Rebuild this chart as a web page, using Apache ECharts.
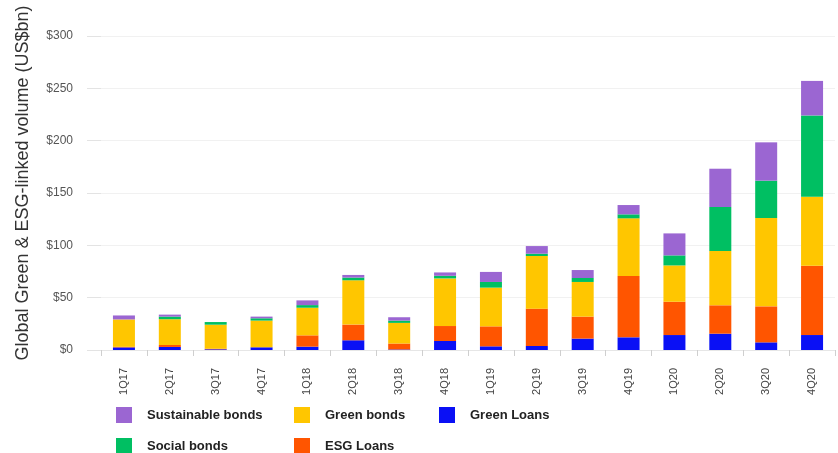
<!DOCTYPE html>
<html>
<head>
<meta charset="utf-8">
<script src="https://cdn.jsdelivr.net/npm/echarts@6/dist/echarts.min.js"></script>
<style>
  html, body { margin: 0; padding: 0; background: #fff; }
  #main { width: 838px; height: 453px; }
</style>
</head>
<body>
<div id="main"></div>
<script>
// quarters on the x axis
var categories = ['1Q17', '2Q17', '3Q17', '4Q17', '1Q18', '2Q18', '3Q18', '4Q18',
                  '1Q19', '2Q19', '3Q19', '4Q19', '1Q20', '2Q20', '3Q20', '4Q20'];

// volumes in US$bn, stacked bottom -> top
var greenLoans       = [2.5, 2.9, 0.7, 2.6, 3.2, 9.3, 0.5, 8.6, 3.5, 3.8, 10.9, 12.1, 14.3, 15.6, 7.3, 14.3];
var esgLoans         = [0.5, 1.9, 0.5, 0, 10.8, 15, 5.7, 14.3, 19.1, 35.7, 21, 58.6, 31.8, 27.1, 34.4, 66.2];
var greenBonds       = [26.2, 24.6, 23, 25.5, 26.4, 42.3, 19.7, 45.5, 37, 50.3, 33.1, 55.1, 34.7, 51.9, 84.4, 65.9];
var socialBonds      = [0, 2.5, 2.5, 2.2, 2.5, 2.6, 2.2, 2.5, 5.4, 2.2, 3.8, 3.8, 9.6, 42, 35.7, 77.7];
var sustainableBonds = [3.8, 1.9, 0, 1.6, 4.5, 2.5, 3.2, 3.2, 9.6, 7.3, 7.6, 8.9, 21, 36.6, 36.6, 33];

var yTicks = [0, 50, 100, 150, 200, 250, 300];

var myChart = echarts.init(document.getElementById('main'));

function bar(name, data, color) {
    return {
        name: name,
        type: 'bar',
        stack: 'total',
        barWidth: 22,
        data: data,
        itemStyle: { color: color }
    };
}

// one legend per item so the columns sit where they do in the picture
function legendItem(name, left, top) {
    return {
        data: [name],
        left: left,
        top: top,
        padding: 0,
        itemWidth: 16,
        itemHeight: 16,
        icon: 'rect',
        textStyle: {
            fontFamily: 'Liberation Sans, Arial, sans-serif',
            fontSize: 13,
            fontWeight: 'bold',
            color: '#222',
            padding: [0, 0, 0, 10]
        }
    };
}

var option = {
    animation: false,
    textStyle: { fontFamily: 'Liberation Sans, Arial, sans-serif' },
    grid: {
        left: 101,
        right: 3,
        top: 36,
        bottom: 103
    },
    legend: [
        legendItem('Sustainable bonds', 116, 407),
        legendItem('Green bonds', 294, 407),
        legendItem('Green Loans', 439, 407),
        legendItem('Social bonds', 116, 438),
        legendItem('ESG Loans', 294, 438)
    ],
    graphic: [{
        type: 'text',
        x: 23,
        y: 183,
        rotation: Math.PI / 2,
        style: {
            text: 'Global Green & ESG-linked volume (US$bn)',
            font: '18px "Liberation Sans", Arial, sans-serif',
            fill: '#333',
            align: 'center',
            verticalAlign: 'middle'
        }
    }],
    xAxis: {
        type: 'category',
        data: categories,
        axisLine: { show: true, lineStyle: { color: '#e6e6e6' } },
        axisTick: { show: true, length: 6, lineStyle: { color: '#cfcfcf' } },
        axisLabel: {
            rotate: 90,
            margin: 18,
            fontSize: 11,
            color: '#444'
        }
    },
    yAxis: {
        type: 'value',
        min: yTicks[0],
        max: yTicks[yTicks.length - 1],
        interval: 50,
        axisLine: { show: false },
        axisTick: { show: true, length: 14, lineStyle: { color: '#e3e3e3' } },
        splitLine: { lineStyle: { color: '#f1f1f1' } },
        axisLabel: {
            margin: 28,
            fontSize: 12,
            color: '#555',
            formatter: function (v) { return '$' + v; }
        }
    },
    series: [
        bar('Green Loans', greenLoans, '#0a10f5'),
        bar('ESG Loans', esgLoans, '#ff5500'),
        bar('Green bonds', greenBonds, '#ffc600'),
        bar('Social bonds', socialBonds, '#00bf62'),
        bar('Sustainable bonds', sustainableBonds, '#9b66d2')
    ]
};

myChart.setOption(option);
</script>
</body>
</html>
